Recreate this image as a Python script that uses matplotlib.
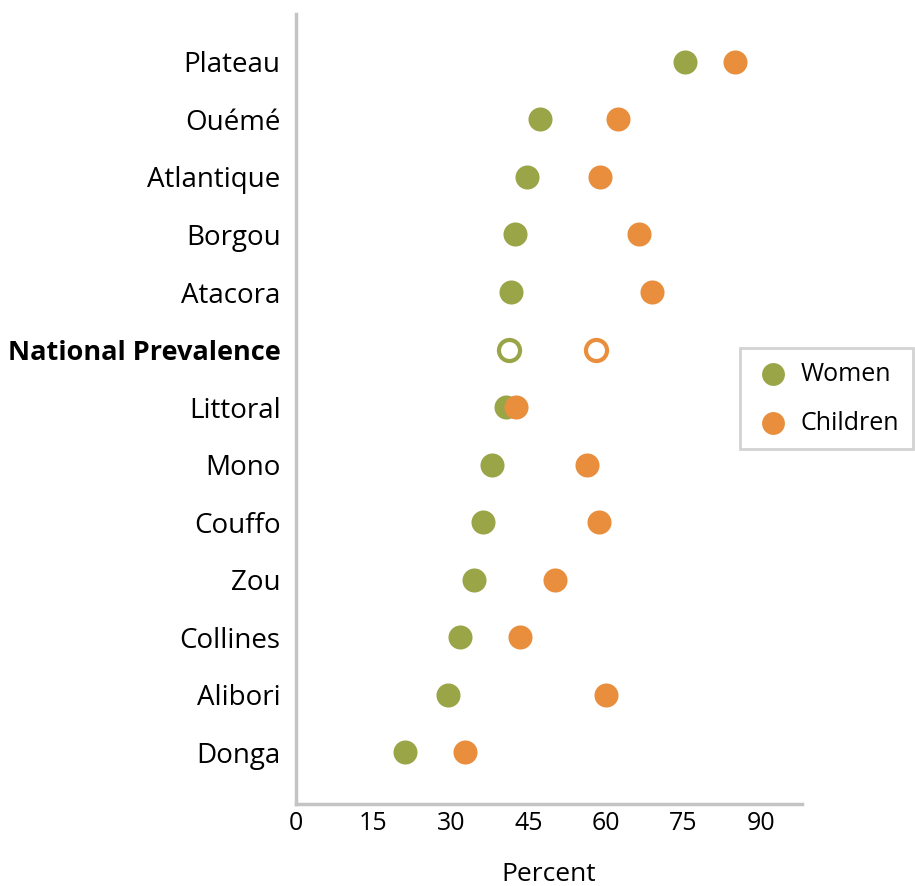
import numpy as np
import matplotlib.pyplot as plt

plt.rcParams['font.family'] = ['Open Sans', 'DejaVu Sans']

# regions from bottom to top
regions = ['Donga', 'Alibori', 'Collines', 'Zou', 'Couffo', 'Mono', 'Littoral',
           'National Prevalence', 'Atacora', 'Borgou', 'Atlantique', 'Ouémé', 'Plateau']
women = [21.2, 29.5, 31.7, 34.4, 36.2, 37.9, 40.6, 41.2, 41.6, 42.4, 44.7, 47.2, 75.4]
children = [32.7, 60.1, 43.4, 50.2, 58.7, 56.4, 42.6, 58.1, 69.0, 66.5, 58.9, 62.4, 85.1]
xticks = [0, 15, 30, 45, 60, 75, 90]

green = '#9AA548'
orange = '#E88E3C'
national = regions.index('National Prevalence')

fig = plt.figure(figsize=(9.15, 8.86), dpi=100)
ax = fig.add_axes([0.3235, 0.0926, 0.553, 0.8914])

y = np.arange(len(regions))
mask = np.array([i != national for i in range(len(regions))])

ax.scatter(np.array(women)[mask], y[mask], s=300, color=green, zorder=3, label='Women', linewidths=0)
ax.scatter(np.array(children)[mask], y[mask], s=300, color=orange, zorder=4, label='Children', linewidths=0)
# national prevalence as open circles
ax.scatter([women[national]], [national], s=230, facecolor='white', edgecolor=green, linewidths=3, zorder=3)
ax.scatter([children[national]], [national], s=230, facecolor='white', edgecolor=orange, linewidths=3, zorder=3)

ax.set_xlim(0, 98)
ax.set_ylim(-0.9, 12.83)
ax.set_xticks(xticks)
ax.set_xticklabels([str(t) for t in xticks], fontsize=18)
ax.set_yticks(y)
ax.set_yticklabels(regions, fontsize=20)
for i, lab in enumerate(ax.get_yticklabels()):
    if i == national:
        lab.set_fontweight('bold')
        lab.set_fontsize(19.5)
ax.tick_params(axis='both', length=0)
ax.tick_params(axis='y', pad=11)
ax.tick_params(axis='x', pad=5)
ax.set_xlabel('Percent', fontsize=19, labelpad=19)

for s in ['top', 'right']:
    ax.spines[s].set_visible(False)
for s in ['left', 'bottom']:
    ax.spines[s].set_color('#C4C4C4')
    ax.spines[s].set_linewidth(2.5)

leg = fig.legend(loc='upper right', bbox_to_anchor=(0.998, 0.607), fontsize=18,
                 frameon=True, fancybox=False, edgecolor='#C8C8C8', borderaxespad=0,
                 handletextpad=0.3, labelspacing=0.95, borderpad=0.55, markerscale=0.95,
                 handlelength=1.6)
leg.get_frame().set_linewidth(2)

fig.savefig('out.png', dpi=100)
